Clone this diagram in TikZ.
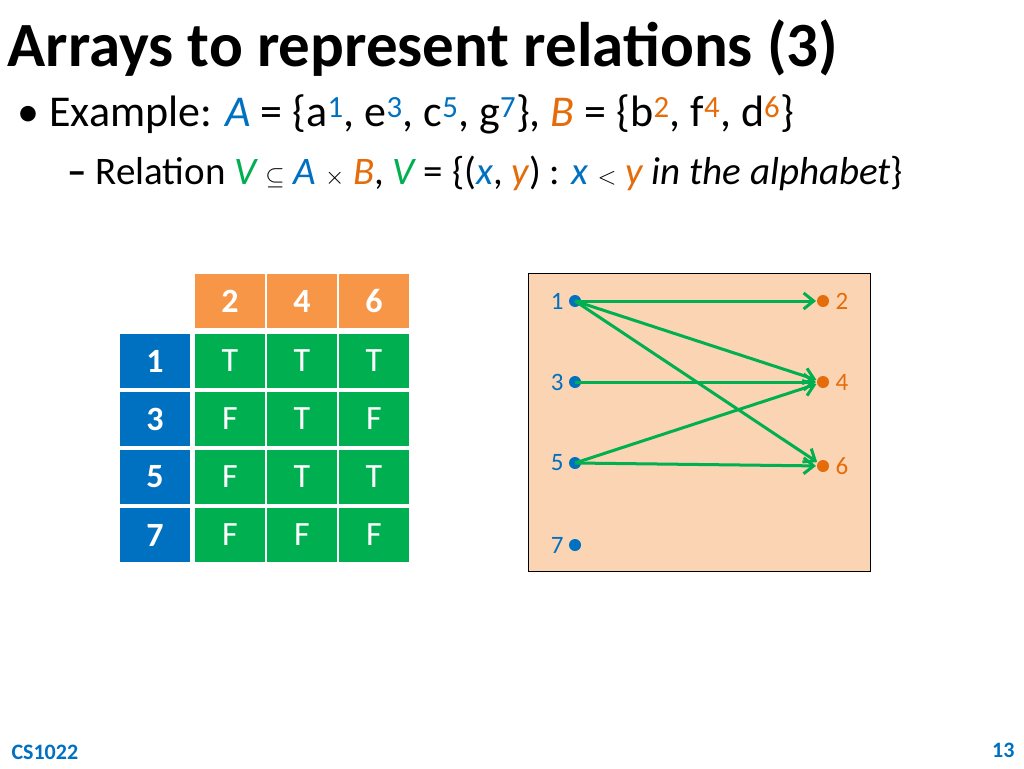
\documentclass[tikz,border=0pt]{standalone}
\usepackage{fontspec}
\setmainfont{Carlito}
\usetikzlibrary{arrows.meta}
\definecolor{sblue}{HTML}{0070C0}
\definecolor{sorange}{HTML}{F79646}
\definecolor{dorange}{HTML}{E46C0A}
\definecolor{sgreen}{HTML}{00B050}
\definecolor{spanel}{HTML}{FBD4B4}
\tikzset{
  cell/.style={minimum width=70pt, minimum height=54pt, inner sep=0pt, text=white, font=\fontsize{34}{40}\selectfont},
  hd/.style={cell, fill=sorange, font=\fontsize{34}{40}\selectfont\bfseries},
  rw/.style={cell, fill=sblue, font=\fontsize{34}{40}\selectfont\bfseries},
  tv/.style={cell, fill=sgreen},
  dota/.style={circle, fill=sblue, inner sep=0pt, minimum size=12pt},
  dotb/.style={circle, fill=dorange, inner sep=0pt, minimum size=12pt},
  edge/.style={draw=sgreen, line width=3pt, -{Straight Barb[length=10pt,width=16pt,line width=3pt]}, shorten >=7pt}
}
\begin{document}
\begin{tikzpicture}[x=1pt,y=-1pt]
\useasboundingbox (0,0) rectangle (1024,768);
% title and bullets
\node[anchor=west, font=\fontsize{63}{70}\selectfont\bfseries] (title) at (4,48) {Arrays to represent relations (3)};
\node[anchor=west, font=\fontsize{44}{50}\selectfont] (bul1) at (14,114)
  {\textbullet\ Example: \textcolor{sblue}{\itshape A} = \{a\textsuperscript{\textcolor{sblue}{1}}, e\textsuperscript{\textcolor{sblue}{3}}, c\textsuperscript{\textcolor{sblue}{5}}, g\textsuperscript{\textcolor{sblue}{7}}\}, \textcolor{dorange}{\itshape B} = \{b\textsuperscript{\textcolor{dorange}{2}}, f\textsuperscript{\textcolor{dorange}{4}}, d\textsuperscript{\textcolor{dorange}{6}}\}};
\node[anchor=west, font=\fontsize{39}{44}\selectfont] (bul2) at (64,173)
  {\textbf{--} Relation \textcolor{sgreen}{\itshape V} $\subseteq$ \textcolor{sblue}{\itshape A} $\times$ \textcolor{dorange}{\itshape B}, \textcolor{sgreen}{\itshape V} = \{(\textcolor{sblue}{\itshape x}, \textcolor{dorange}{\itshape y}) : \textcolor{sblue}{\itshape x} $<$ \textcolor{dorange}{\itshape y} \itshape in the alphabet\upshape\}};
% table
\foreach \c [count=\j] in {2,4,6}
  \node[hd] (h\c) at (158+72*\j,301) {\c};
\foreach \r/\vals [count=\i] in {1/{T,T,T},3/{F,T,F},5/{F,T,T},7/{F,F,F}} {
  \node[rw] (r\r) at (155,303+58*\i) {\r};
  \foreach \v [count=\j] in \vals
    \node[tv] (c\r\j) at (158+72*\j,303+58*\i) {\v};
}
% graph
\node[draw=black, fill=spanel, line width=1pt, minimum width=342pt, minimum height=298pt, anchor=north west] (panel) at (528,273) {};
\foreach \n/\y in {1/301,3/382,5/463,7/545} {
  \node[dota] (a\n) at (575,\y) {};
  \node[anchor=east, text=sblue, font=\fontsize{25}{30}\selectfont] (la\n) at (567,\y) {\n};
}
\foreach \n/\y in {2/301,4/382,6/466} {
  \node[dotb] (b\n) at (823,\y) {};
  \node[anchor=west, text=dorange, font=\fontsize{25}{30}\selectfont] (lb\n) at (832,\y) {\n};
}
\foreach \s/\t in {1/2,1/4,1/6,3/4,5/4,5/6}
  \draw[edge] (a\s.center) -- (b\t.center);
% footer
\node[anchor=west, text=sblue, font=\fontsize{22}{24}\selectfont\bfseries] (foot) at (8,752) {CS1022};
\node[anchor=east, text=sblue, font=\fontsize{22}{24}\selectfont\bfseries] (page) at (1018,750) {13};
\end{tikzpicture}
\end{document}
